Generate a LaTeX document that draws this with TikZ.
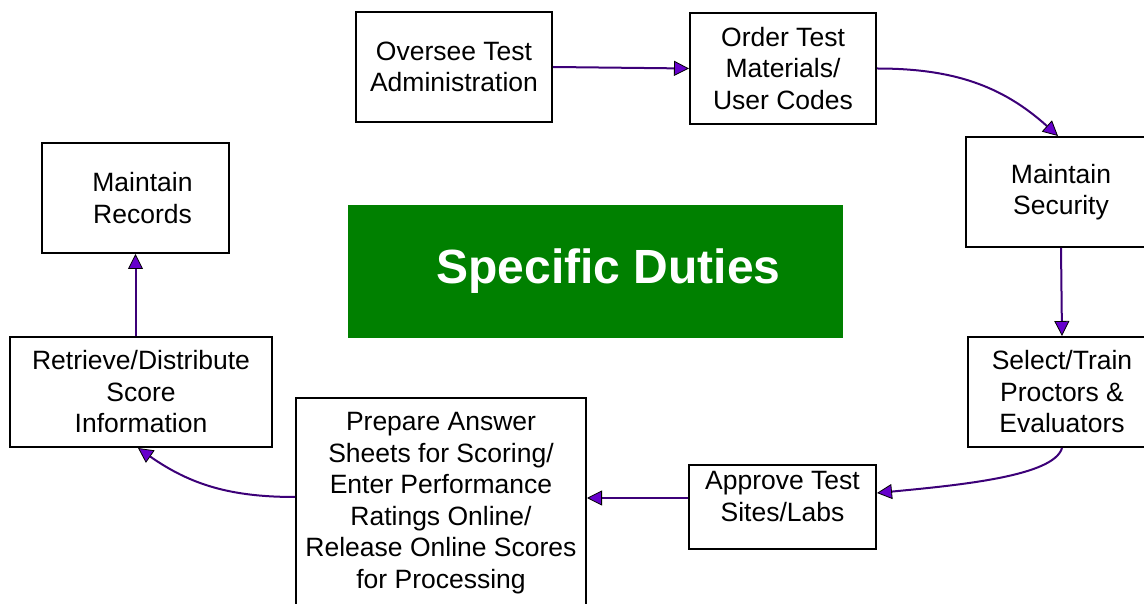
\documentclass[tikz,border=0pt]{standalone}
\usepackage{fontspec}
\setmainfont{Liberation Sans}
\usetikzlibrary{arrows.meta}
\definecolor{dutygreen}{RGB}{0,128,0}
\definecolor{flowline}{RGB}{60,0,120}
\definecolor{flowhead}{RGB}{102,0,204}
\begin{document}
\begin{tikzpicture}[x=1pt,y=1pt,
  box/.style={draw,line width=2pt,align=center,inner sep=2pt,
    font=\fontsize{26.5}{31.5}\selectfont},
  flow/.style={draw=flowline,line width=2pt,
    -{Triangle[length=15pt,width=15pt,color=black,fill=flowhead,line width=0.8pt]}}]
  \useasboundingbox (0,0) rectangle (1144,603);
  % 各業務の箱 (左下原点, 1pt=1px)
  \node[box,minimum width=196,minimum height=110] (oversee) at (454,536) {Oversee Test\\Administration};
  \node[box,minimum width=186,minimum height=111] (order) at (783,534.5) {Order Test\\Materials/\\User Codes};
  \node[box,minimum width=190,minimum height=110] (security) at (1061,411) {Maintain\\Security};
  \node[box,minimum width=188,minimum height=110] (select) at (1062,211) {Select/Train\\Proctors \&\\Evaluators};
  \node[box,minimum width=187,minimum height=84] (approve) at (782.5,96) {Approve Test\\Sites/Labs\\[-10pt]{}};
  \node[box,minimum width=290,minimum height=210] (prepare) at (441,100) {Prepare Answer\\Sheets for Scoring/\\Enter Performance\\Ratings Online/\\Release Online Scores\\for Processing};
  \node[box,minimum width=262,minimum height=110] (retrieve) at (141,211) {Retrieve/Distribute\\Score\\Information};
  \node[box,minimum width=187,minimum height=110] (records) at (135.5,405) {\hspace*{14pt}Maintain\\\hspace*{14pt}Records};
  % 中央の見出し
  \node[fill=dutygreen,text=white,minimum width=495,minimum height=133,
    font=\fontsize{48}{56}\selectfont\bfseries] (title) at (595.5,331.5) {\hspace*{26pt}\raisebox{5pt}{Specific Duties}};
  % 流れ (時計回り)
  \draw[flow] (oversee.east) -- (order.west);
  \draw[flow] (order.east) to[out=0,in=138] ([xshift=-3pt]security.north);
  \draw[flow] (security.south) -- (select.north);
  \draw[flow] (select.south) .. controls +(-8,-28) and +(84,8) .. ([yshift=14pt]approve.east);
  \draw[flow] ([yshift=9pt]approve.west) -- ([yshift=9pt]approve.west -| prepare.east);
  \draw[flow] ([yshift=6pt]prepare.west) to[out=180,in=-35] ([xshift=-3pt]retrieve.south);
  \draw[flow] (retrieve.north -| records.south) -- (records.south);
\end{tikzpicture}
\end{document}
